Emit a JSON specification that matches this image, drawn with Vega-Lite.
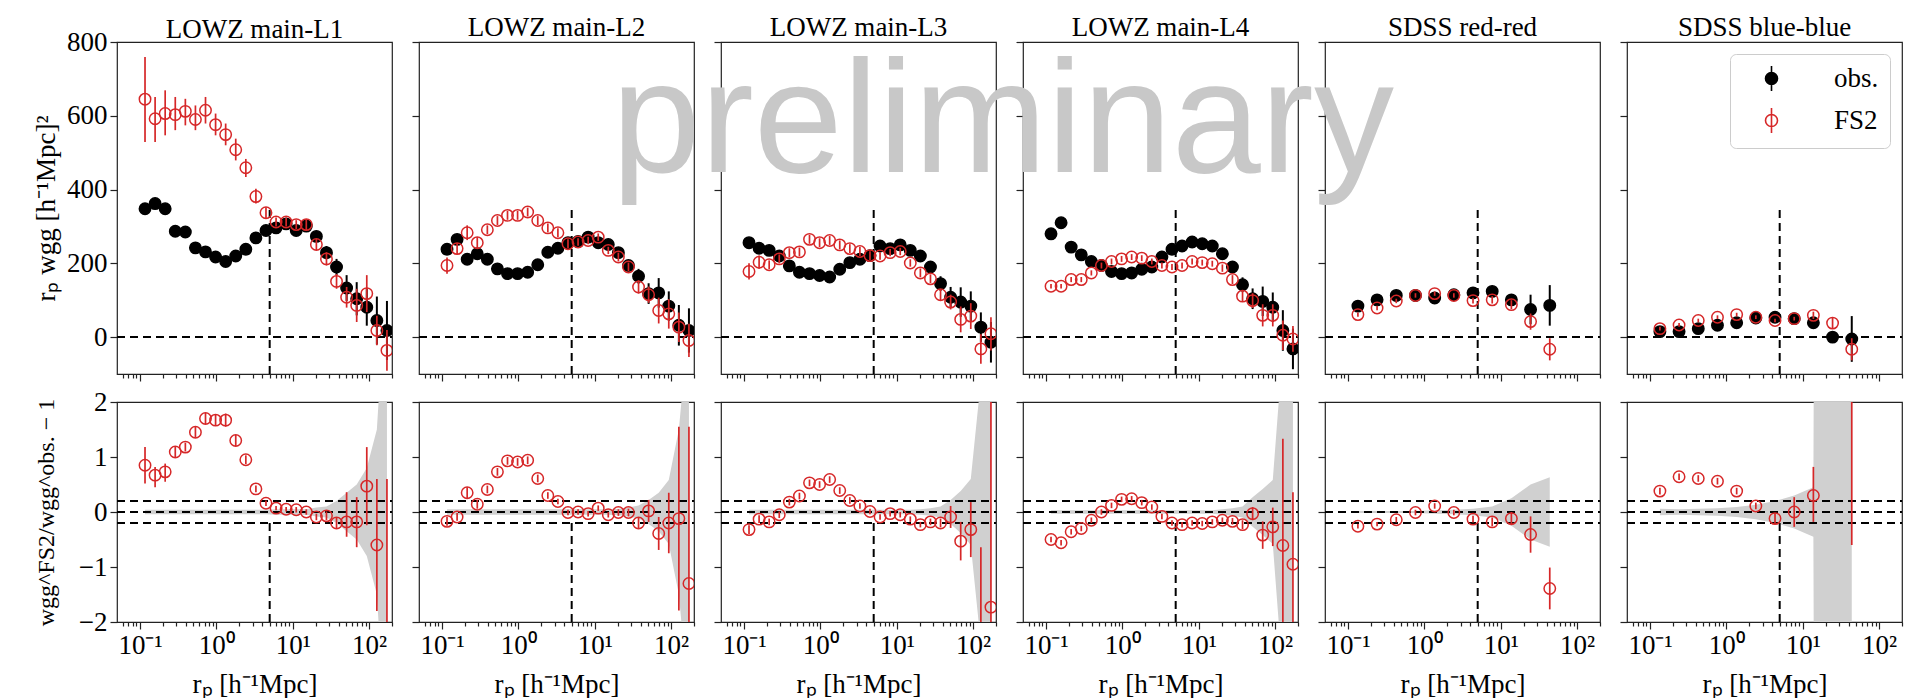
{
"$schema":"https://vega.github.io/schema/vega-lite/v6.json",
"background":"white",
"padding":{"left":31,"top":13,"right":0,"bottom":0},
"datasets":{
"top":[
{"p":1,"s":"obs.","r":0.1164,"w":348,"lo":333,"hi":363},{"p":1,"s":"obs.","r":0.1578,"w":362,"lo":347,"hi":377},{"p":1,"s":"obs.","r":0.2138,"w":348,"lo":336,"hi":360},{"p":1,"s":"obs.","r":0.2899,"w":287,"lo":277,"hi":297},{"p":1,"s":"obs.","r":0.3929,"w":285,"lo":275,"hi":295},{"p":1,"s":"obs.","r":0.5324,"w":242,"lo":234,"hi":250},{"p":1,"s":"obs.","r":0.7216,"w":231,"lo":223,"hi":239},{"p":1,"s":"obs.","r":0.9779,"w":217,"lo":209,"hi":225},{"p":1,"s":"obs.","r":1.325,"w":205,"lo":197,"hi":213},{"p":1,"s":"obs.","r":1.796,"w":220,"lo":212,"hi":228},{"p":1,"s":"obs.","r":2.434,"w":238,"lo":230,"hi":246},{"p":1,"s":"obs.","r":3.299,"w":269,"lo":261,"hi":277},{"p":1,"s":"obs.","r":4.471,"w":289,"lo":281,"hi":297},{"p":1,"s":"obs.","r":6.06,"w":296,"lo":286,"hi":306},{"p":1,"s":"obs.","r":8.212,"w":307,"lo":297,"hi":317},{"p":1,"s":"obs.","r":11.13,"w":289,"lo":277,"hi":301},{"p":1,"s":"obs.","r":15.08,"w":301,"lo":289,"hi":313},{"p":1,"s":"obs.","r":20.44,"w":273,"lo":258,"hi":288},{"p":1,"s":"obs.","r":27.71,"w":229,"lo":211,"hi":247},{"p":1,"s":"obs.","r":37.55,"w":190,"lo":168,"hi":212},{"p":1,"s":"obs.","r":50.89,"w":133,"lo":98,"hi":168},{"p":1,"s":"obs.","r":68.97,"w":104,"lo":59,"hi":149},{"p":1,"s":"obs.","r":93.47,"w":81,"lo":31,"hi":131},{"p":1,"s":"obs.","r":126.7,"w":45,"lo":-20,"hi":110},{"p":1,"s":"obs.","r":171.7,"w":18,"lo":-62,"hi":98},
{"p":1,"s":"FS2","r":0.1164,"w":645,"lo":529,"hi":759},{"p":1,"s":"FS2","r":0.1578,"w":592,"lo":529,"hi":651},{"p":1,"s":"FS2","r":0.2138,"w":606,"lo":547,"hi":669},{"p":1,"s":"FS2","r":0.2899,"w":603,"lo":561,"hi":651},{"p":1,"s":"FS2","r":0.3929,"w":612,"lo":574,"hi":646},{"p":1,"s":"FS2","r":0.5324,"w":590,"lo":561,"hi":628},{"p":1,"s":"FS2","r":0.7216,"w":615,"lo":579,"hi":651},{"p":1,"s":"FS2","r":0.9779,"w":576,"lo":547,"hi":606},{"p":1,"s":"FS2","r":1.325,"w":549,"lo":520,"hi":579},{"p":1,"s":"FS2","r":1.796,"w":508,"lo":479,"hi":538},{"p":1,"s":"FS2","r":2.434,"w":459,"lo":434,"hi":483},{"p":1,"s":"FS2","r":3.299,"w":381,"lo":362,"hi":402},{"p":1,"s":"FS2","r":4.471,"w":337,"lo":322,"hi":352},{"p":1,"s":"FS2","r":6.06,"w":312,"lo":300,"hi":324},{"p":1,"s":"FS2","r":8.212,"w":312,"lo":300,"hi":324},{"p":1,"s":"FS2","r":11.13,"w":305,"lo":293,"hi":317},{"p":1,"s":"FS2","r":15.08,"w":305,"lo":290,"hi":320},{"p":1,"s":"FS2","r":20.44,"w":251,"lo":236,"hi":266},{"p":1,"s":"FS2","r":27.71,"w":212,"lo":194,"hi":230},{"p":1,"s":"FS2","r":37.55,"w":151,"lo":131,"hi":171},{"p":1,"s":"FS2","r":50.89,"w":108,"lo":80,"hi":136},{"p":1,"s":"FS2","r":68.97,"w":86,"lo":41,"hi":131},{"p":1,"s":"FS2","r":93.47,"w":118,"lo":68,"hi":168},{"p":1,"s":"FS2","r":126.7,"w":18,"lo":-22,"hi":58},{"p":1,"s":"FS2","r":171.7,"w":-36,"lo":-91,"hi":19},
{"p":2,"s":"obs.","r":0.1164,"w":238,"lo":230,"hi":246},{"p":2,"s":"obs.","r":0.1578,"w":265,"lo":257,"hi":273},{"p":2,"s":"obs.","r":0.2138,"w":211,"lo":203,"hi":219},{"p":2,"s":"obs.","r":0.2899,"w":226,"lo":218,"hi":234},{"p":2,"s":"obs.","r":0.3929,"w":211,"lo":203,"hi":219},{"p":2,"s":"obs.","r":0.5324,"w":185,"lo":177,"hi":193},{"p":2,"s":"obs.","r":0.7216,"w":172,"lo":164,"hi":180},{"p":2,"s":"obs.","r":0.9779,"w":172,"lo":164,"hi":180},{"p":2,"s":"obs.","r":1.325,"w":176,"lo":168,"hi":184},{"p":2,"s":"obs.","r":1.796,"w":196,"lo":188,"hi":204},{"p":2,"s":"obs.","r":2.434,"w":230,"lo":222,"hi":238},{"p":2,"s":"obs.","r":3.299,"w":241,"lo":233,"hi":249},{"p":2,"s":"obs.","r":4.471,"w":256,"lo":248,"hi":264},{"p":2,"s":"obs.","r":6.06,"w":259,"lo":251,"hi":267},{"p":2,"s":"obs.","r":8.212,"w":271,"lo":263,"hi":279},{"p":2,"s":"obs.","r":11.13,"w":256,"lo":248,"hi":264},{"p":2,"s":"obs.","r":15.08,"w":251,"lo":243,"hi":259},{"p":2,"s":"obs.","r":20.44,"w":229,"lo":217,"hi":241},{"p":2,"s":"obs.","r":27.71,"w":194,"lo":179,"hi":209},{"p":2,"s":"obs.","r":37.55,"w":165,"lo":145,"hi":185},{"p":2,"s":"obs.","r":50.89,"w":118,"lo":90,"hi":146},{"p":2,"s":"obs.","r":68.97,"w":120,"lo":80,"hi":160},{"p":2,"s":"obs.","r":93.47,"w":84,"lo":44,"hi":124},{"p":2,"s":"obs.","r":126.7,"w":32,"lo":-23,"hi":87},{"p":2,"s":"obs.","r":171.7,"w":18,"lo":-42,"hi":78},
{"p":2,"s":"FS2","r":0.1164,"w":194,"lo":172,"hi":216},{"p":2,"s":"FS2","r":0.1578,"w":240,"lo":225,"hi":255},{"p":2,"s":"FS2","r":0.2138,"w":283,"lo":263,"hi":303},{"p":2,"s":"FS2","r":0.2899,"w":256,"lo":241,"hi":271},{"p":2,"s":"FS2","r":0.3929,"w":291,"lo":279,"hi":303},{"p":2,"s":"FS2","r":0.5324,"w":316,"lo":304,"hi":328},{"p":2,"s":"FS2","r":0.7216,"w":330,"lo":318,"hi":342},{"p":2,"s":"FS2","r":0.9779,"w":330,"lo":318,"hi":342},{"p":2,"s":"FS2","r":1.325,"w":339,"lo":327,"hi":351},{"p":2,"s":"FS2","r":1.796,"w":316,"lo":304,"hi":328},{"p":2,"s":"FS2","r":2.434,"w":296,"lo":284,"hi":308},{"p":2,"s":"FS2","r":3.299,"w":283,"lo":271,"hi":295},{"p":2,"s":"FS2","r":4.471,"w":253,"lo":241,"hi":265},{"p":2,"s":"FS2","r":6.06,"w":258,"lo":248,"hi":268},{"p":2,"s":"FS2","r":8.212,"w":262,"lo":252,"hi":272},{"p":2,"s":"FS2","r":11.13,"w":271,"lo":261,"hi":281},{"p":2,"s":"FS2","r":15.08,"w":235,"lo":225,"hi":245},{"p":2,"s":"FS2","r":20.44,"w":217,"lo":205,"hi":229},{"p":2,"s":"FS2","r":27.71,"w":190,"lo":178,"hi":202},{"p":2,"s":"FS2","r":37.55,"w":136,"lo":118,"hi":154},{"p":2,"s":"FS2","r":50.89,"w":115,"lo":93,"hi":137},{"p":2,"s":"FS2","r":68.97,"w":72,"lo":37,"hi":107},{"p":2,"s":"FS2","r":93.47,"w":63,"lo":23,"hi":103},{"p":2,"s":"FS2","r":126.7,"w":27,"lo":-13,"hi":67},{"p":2,"s":"FS2","r":171.7,"w":-9,"lo":-54,"hi":36},
{"p":3,"s":"obs.","r":0.1164,"w":256,"lo":248,"hi":264},{"p":3,"s":"obs.","r":0.1578,"w":241,"lo":233,"hi":249},{"p":3,"s":"obs.","r":0.2138,"w":235,"lo":227,"hi":243},{"p":3,"s":"obs.","r":0.2899,"w":220,"lo":212,"hi":228},{"p":3,"s":"obs.","r":0.3929,"w":193,"lo":185,"hi":201},{"p":3,"s":"obs.","r":0.5324,"w":176,"lo":168,"hi":184},{"p":3,"s":"obs.","r":0.7216,"w":172,"lo":164,"hi":180},{"p":3,"s":"obs.","r":0.9779,"w":167,"lo":159,"hi":175},{"p":3,"s":"obs.","r":1.325,"w":163,"lo":155,"hi":171},{"p":3,"s":"obs.","r":1.796,"w":184,"lo":176,"hi":192},{"p":3,"s":"obs.","r":2.434,"w":202,"lo":194,"hi":210},{"p":3,"s":"obs.","r":3.299,"w":211,"lo":203,"hi":219},{"p":3,"s":"obs.","r":4.471,"w":221,"lo":213,"hi":229},{"p":3,"s":"obs.","r":6.06,"w":247,"lo":239,"hi":255},{"p":3,"s":"obs.","r":8.212,"w":240,"lo":232,"hi":248},{"p":3,"s":"obs.","r":11.13,"w":250,"lo":242,"hi":258},{"p":3,"s":"obs.","r":15.08,"w":235,"lo":227,"hi":243},{"p":3,"s":"obs.","r":20.44,"w":220,"lo":208,"hi":232},{"p":3,"s":"obs.","r":27.71,"w":190,"lo":175,"hi":205},{"p":3,"s":"obs.","r":37.55,"w":145,"lo":125,"hi":165},{"p":3,"s":"obs.","r":50.89,"w":108,"lo":80,"hi":136},{"p":3,"s":"obs.","r":68.97,"w":95,"lo":55,"hi":135},{"p":3,"s":"obs.","r":93.47,"w":84,"lo":44,"hi":124},{"p":3,"s":"obs.","r":126.7,"w":27,"lo":-13,"hi":67},{"p":3,"s":"obs.","r":171.7,"w":-14,"lo":-69,"hi":41},
{"p":3,"s":"FS2","r":0.1164,"w":178,"lo":156,"hi":200},{"p":3,"s":"FS2","r":0.1578,"w":203,"lo":185,"hi":221},{"p":3,"s":"FS2","r":0.2138,"w":196,"lo":184,"hi":208},{"p":3,"s":"FS2","r":0.2899,"w":212,"lo":200,"hi":224},{"p":3,"s":"FS2","r":0.3929,"w":229,"lo":217,"hi":241},{"p":3,"s":"FS2","r":0.5324,"w":231,"lo":219,"hi":243},{"p":3,"s":"FS2","r":0.7216,"w":265,"lo":253,"hi":277},{"p":3,"s":"FS2","r":0.9779,"w":256,"lo":244,"hi":268},{"p":3,"s":"FS2","r":1.325,"w":262,"lo":250,"hi":274},{"p":3,"s":"FS2","r":1.796,"w":250,"lo":238,"hi":262},{"p":3,"s":"FS2","r":2.434,"w":240,"lo":228,"hi":252},{"p":3,"s":"FS2","r":3.299,"w":232,"lo":220,"hi":244},{"p":3,"s":"FS2","r":4.471,"w":221,"lo":209,"hi":233},{"p":3,"s":"FS2","r":6.06,"w":220,"lo":210,"hi":230},{"p":3,"s":"FS2","r":8.212,"w":229,"lo":219,"hi":239},{"p":3,"s":"FS2","r":11.13,"w":232,"lo":222,"hi":242},{"p":3,"s":"FS2","r":15.08,"w":201,"lo":191,"hi":211},{"p":3,"s":"FS2","r":20.44,"w":174,"lo":162,"hi":186},{"p":3,"s":"FS2","r":27.71,"w":158,"lo":146,"hi":170},{"p":3,"s":"FS2","r":37.55,"w":115,"lo":100,"hi":130},{"p":3,"s":"FS2","r":50.89,"w":95,"lo":75,"hi":115},{"p":3,"s":"FS2","r":68.97,"w":48,"lo":13,"hi":83},{"p":3,"s":"FS2","r":93.47,"w":57,"lo":22,"hi":92},{"p":3,"s":"FS2","r":126.7,"w":-32,"lo":-72,"hi":8},{"p":3,"s":"FS2","r":171.7,"w":9,"lo":-36,"hi":54},
{"p":4,"s":"obs.","r":0.1164,"w":280,"lo":272,"hi":288},{"p":4,"s":"obs.","r":0.1578,"w":310,"lo":302,"hi":318},{"p":4,"s":"obs.","r":0.2138,"w":244,"lo":236,"hi":252},{"p":4,"s":"obs.","r":0.2899,"w":223,"lo":215,"hi":231},{"p":4,"s":"obs.","r":0.3929,"w":205,"lo":197,"hi":213},{"p":4,"s":"obs.","r":0.5324,"w":194,"lo":186,"hi":202},{"p":4,"s":"obs.","r":0.7216,"w":178,"lo":170,"hi":186},{"p":4,"s":"obs.","r":0.9779,"w":172,"lo":164,"hi":180},{"p":4,"s":"obs.","r":1.325,"w":174,"lo":166,"hi":182},{"p":4,"s":"obs.","r":1.796,"w":184,"lo":176,"hi":192},{"p":4,"s":"obs.","r":2.434,"w":190,"lo":182,"hi":198},{"p":4,"s":"obs.","r":3.299,"w":217,"lo":209,"hi":225},{"p":4,"s":"obs.","r":4.471,"w":238,"lo":230,"hi":246},{"p":4,"s":"obs.","r":6.06,"w":247,"lo":239,"hi":255},{"p":4,"s":"obs.","r":8.212,"w":258,"lo":250,"hi":266},{"p":4,"s":"obs.","r":11.13,"w":253,"lo":245,"hi":261},{"p":4,"s":"obs.","r":15.08,"w":247,"lo":239,"hi":255},{"p":4,"s":"obs.","r":20.44,"w":226,"lo":214,"hi":238},{"p":4,"s":"obs.","r":27.71,"w":190,"lo":175,"hi":205},{"p":4,"s":"obs.","r":37.55,"w":142,"lo":122,"hi":162},{"p":4,"s":"obs.","r":50.89,"w":104,"lo":76,"hi":132},{"p":4,"s":"obs.","r":68.97,"w":97,"lo":57,"hi":137},{"p":4,"s":"obs.","r":93.47,"w":81,"lo":41,"hi":121},{"p":4,"s":"obs.","r":126.7,"w":18,"lo":-37,"hi":73},{"p":4,"s":"obs.","r":171.7,"w":-32,"lo":-87,"hi":23},
{"p":4,"s":"FS2","r":0.1164,"w":138,"lo":132,"hi":144},{"p":4,"s":"FS2","r":0.1578,"w":138,"lo":132,"hi":144},{"p":4,"s":"FS2","r":0.2138,"w":156,"lo":149,"hi":163},{"p":4,"s":"FS2","r":0.2899,"w":156,"lo":149,"hi":163},{"p":4,"s":"FS2","r":0.3929,"w":174,"lo":167,"hi":181},{"p":4,"s":"FS2","r":0.5324,"w":194,"lo":186,"hi":202},{"p":4,"s":"FS2","r":0.7216,"w":205,"lo":197,"hi":213},{"p":4,"s":"FS2","r":0.9779,"w":212,"lo":204,"hi":220},{"p":4,"s":"FS2","r":1.325,"w":217,"lo":209,"hi":225},{"p":4,"s":"FS2","r":1.796,"w":214,"lo":206,"hi":222},{"p":4,"s":"FS2","r":2.434,"w":205,"lo":197,"hi":213},{"p":4,"s":"FS2","r":3.299,"w":194,"lo":186,"hi":202},{"p":4,"s":"FS2","r":4.471,"w":190,"lo":182,"hi":198},{"p":4,"s":"FS2","r":6.06,"w":194,"lo":186,"hi":202},{"p":4,"s":"FS2","r":8.212,"w":205,"lo":197,"hi":213},{"p":4,"s":"FS2","r":11.13,"w":202,"lo":194,"hi":210},{"p":4,"s":"FS2","r":15.08,"w":199,"lo":191,"hi":207},{"p":4,"s":"FS2","r":20.44,"w":187,"lo":177,"hi":197},{"p":4,"s":"FS2","r":27.71,"w":156,"lo":144,"hi":168},{"p":4,"s":"FS2","r":37.55,"w":111,"lo":96,"hi":126},{"p":4,"s":"FS2","r":50.89,"w":99,"lo":79,"hi":119},{"p":4,"s":"FS2","r":68.97,"w":59,"lo":29,"hi":89},{"p":4,"s":"FS2","r":93.47,"w":59,"lo":29,"hi":89},{"p":4,"s":"FS2","r":126.7,"w":5,"lo":-35,"hi":45},{"p":4,"s":"FS2","r":171.7,"w":-5,"lo":-40,"hi":30},
{"p":5,"s":"obs.","r":0.1349,"w":84,"lo":78,"hi":90},{"p":5,"s":"obs.","r":0.2405,"w":101,"lo":95,"hi":107},{"p":5,"s":"obs.","r":0.4291,"w":113,"lo":107,"hi":119},{"p":5,"s":"obs.","r":0.7655,"w":113,"lo":107,"hi":119},{"p":5,"s":"obs.","r":1.366,"w":106,"lo":100,"hi":112},{"p":5,"s":"obs.","r":2.435,"w":115,"lo":109,"hi":121},{"p":5,"s":"obs.","r":4.343,"w":120,"lo":114,"hi":126},{"p":5,"s":"obs.","r":7.746,"w":124,"lo":118,"hi":130},{"p":5,"s":"obs.","r":13.81,"w":101,"lo":89,"hi":113},{"p":5,"s":"obs.","r":24.64,"w":75,"lo":35,"hi":115},{"p":5,"s":"obs.","r":43.95,"w":86,"lo":31,"hi":141},
{"p":5,"s":"FS2","r":0.1349,"w":61,"lo":55,"hi":67},{"p":5,"s":"FS2","r":0.2405,"w":79,"lo":73,"hi":85},{"p":5,"s":"FS2","r":0.4291,"w":98,"lo":92,"hi":104},{"p":5,"s":"FS2","r":0.7655,"w":113,"lo":107,"hi":119},{"p":5,"s":"FS2","r":1.366,"w":118,"lo":112,"hi":124},{"p":5,"s":"FS2","r":2.435,"w":113,"lo":107,"hi":119},{"p":5,"s":"FS2","r":4.343,"w":99,"lo":91,"hi":107},{"p":5,"s":"FS2","r":7.746,"w":101,"lo":91,"hi":111},{"p":5,"s":"FS2","r":13.81,"w":88,"lo":76,"hi":100},{"p":5,"s":"FS2","r":24.64,"w":42,"lo":20,"hi":64},{"p":5,"s":"FS2","r":43.95,"w":-33,"lo":-63,"hi":-3},
{"p":6,"s":"obs.","r":0.1349,"w":15,"lo":10,"hi":20},{"p":6,"s":"obs.","r":0.2405,"w":15,"lo":10,"hi":20},{"p":6,"s":"obs.","r":0.4291,"w":23,"lo":18,"hi":28},{"p":6,"s":"obs.","r":0.7655,"w":32,"lo":27,"hi":37},{"p":6,"s":"obs.","r":1.366,"w":39,"lo":34,"hi":44},{"p":6,"s":"obs.","r":2.435,"w":52,"lo":47,"hi":57},{"p":6,"s":"obs.","r":4.343,"w":54,"lo":49,"hi":59},{"p":6,"s":"obs.","r":7.746,"w":50,"lo":45,"hi":55},{"p":6,"s":"obs.","r":13.81,"w":39,"lo":34,"hi":44},{"p":6,"s":"obs.","r":24.64,"w":0,"lo":-5,"hi":5},{"p":6,"s":"obs.","r":43.95,"w":-5,"lo":-67,"hi":57},
{"p":6,"s":"FS2","r":0.1349,"w":23,"lo":18,"hi":28},{"p":6,"s":"FS2","r":0.2405,"w":33,"lo":28,"hi":38},{"p":6,"s":"FS2","r":0.4291,"w":45,"lo":40,"hi":50},{"p":6,"s":"FS2","r":0.7655,"w":54,"lo":49,"hi":59},{"p":6,"s":"FS2","r":1.366,"w":61,"lo":56,"hi":66},{"p":6,"s":"FS2","r":2.435,"w":54,"lo":49,"hi":59},{"p":6,"s":"FS2","r":4.343,"w":45,"lo":40,"hi":50},{"p":6,"s":"FS2","r":7.746,"w":50,"lo":45,"hi":55},{"p":6,"s":"FS2","r":13.81,"w":59,"lo":49,"hi":69},{"p":6,"s":"FS2","r":24.64,"w":38,"lo":23,"hi":53},{"p":6,"s":"FS2","r":43.95,"w":-33,"lo":-63,"hi":-3}
],
"bot":[
{"p":1,"r":0.1164,"v":0.85,"lo":0.52,"hi":1.18},{"p":1,"r":0.1578,"v":0.67,"lo":0.45,"hi":0.82},{"p":1,"r":0.2138,"v":0.73,"lo":0.55,"hi":0.88},{"p":1,"r":0.2899,"v":1.09,"lo":0.99,"hi":1.19},{"p":1,"r":0.3929,"v":1.18,"lo":1.1,"hi":1.26},{"p":1,"r":0.5324,"v":1.45,"lo":1.35,"hi":1.55},{"p":1,"r":0.7216,"v":1.7,"lo":1.6,"hi":1.8},{"p":1,"r":0.9779,"v":1.67,"lo":1.57,"hi":1.77},{"p":1,"r":1.325,"v":1.67,"lo":1.55,"hi":1.79},{"p":1,"r":1.796,"v":1.3,"lo":1.2,"hi":1.4},{"p":1,"r":2.434,"v":0.95,"lo":0.87,"hi":1.03},{"p":1,"r":3.299,"v":0.42,"lo":0.36,"hi":0.48},{"p":1,"r":4.471,"v":0.16,"lo":0.11,"hi":0.21},{"p":1,"r":6.06,"v":0.07,"lo":0.03,"hi":0.11},{"p":1,"r":8.212,"v":0.05,"lo":0.01,"hi":0.09},{"p":1,"r":11.13,"v":0.04,"lo":-0.01,"hi":0.09},{"p":1,"r":15.08,"v":0,"lo":-0.05,"hi":0.05},{"p":1,"r":20.44,"v":-0.09,"lo":-0.15,"hi":-0.03},{"p":1,"r":27.71,"v":-0.07,"lo":-0.15,"hi":0.01},{"p":1,"r":37.55,"v":-0.2,"lo":-0.3,"hi":-0.1},{"p":1,"r":50.89,"v":-0.18,"lo":-0.45,"hi":0.36},{"p":1,"r":68.97,"v":-0.18,"lo":-0.64,"hi":0.27},{"p":1,"r":93.47,"v":0.47,"lo":-0.24,"hi":1.18},{"p":1,"r":126.7,"v":-0.6,"lo":-1.8,"hi":0.6},{"p":1,"r":171.7,"v":-3,"lo":-6.5,"hi":0.6},
{"p":2,"r":0.1164,"v":-0.17,"lo":-0.25,"hi":-0.09},{"p":2,"r":0.1578,"v":-0.09,"lo":-0.16,"hi":-0.02},{"p":2,"r":0.2138,"v":0.35,"lo":0.25,"hi":0.45},{"p":2,"r":0.2899,"v":0.14,"lo":0.06,"hi":0.22},{"p":2,"r":0.3929,"v":0.41,"lo":0.34,"hi":0.48},{"p":2,"r":0.5324,"v":0.73,"lo":0.66,"hi":0.8},{"p":2,"r":0.7216,"v":0.93,"lo":0.86,"hi":1.0},{"p":2,"r":0.9779,"v":0.91,"lo":0.84,"hi":0.98},{"p":2,"r":1.325,"v":0.94,"lo":0.87,"hi":1.01},{"p":2,"r":1.796,"v":0.61,"lo":0.54,"hi":0.68},{"p":2,"r":2.434,"v":0.3,"lo":0.24,"hi":0.36},{"p":2,"r":3.299,"v":0.19,"lo":0.14,"hi":0.24},{"p":2,"r":4.471,"v":-0.01,"lo":-0.06,"hi":0.04},{"p":2,"r":6.06,"v":0,"lo":-0.05,"hi":0.05},{"p":2,"r":8.212,"v":-0.03,"lo":-0.08,"hi":0.02},{"p":2,"r":11.13,"v":0.07,"lo":0.02,"hi":0.12},{"p":2,"r":15.08,"v":-0.05,"lo":-0.1,"hi":0},{"p":2,"r":20.44,"v":-0.01,"lo":-0.07,"hi":0.05},{"p":2,"r":27.71,"v":-0.01,"lo":-0.08,"hi":0.06},{"p":2,"r":37.55,"v":-0.2,"lo":-0.3,"hi":-0.1},{"p":2,"r":50.89,"v":0.02,"lo":-0.18,"hi":0.22},{"p":2,"r":68.97,"v":-0.39,"lo":-0.69,"hi":-0.09},{"p":2,"r":93.47,"v":-0.2,"lo":-0.75,"hi":0.35},{"p":2,"r":126.7,"v":-0.12,"lo":-1.79,"hi":1.55},{"p":2,"r":171.7,"v":-1.3,"lo":-3.5,"hi":1.55},
{"p":3,"r":0.1164,"v":-0.32,"lo":-0.4,"hi":-0.24},{"p":3,"r":0.1578,"v":-0.13,"lo":-0.2,"hi":-0.06},{"p":3,"r":0.2138,"v":-0.18,"lo":-0.24,"hi":-0.12},{"p":3,"r":0.2899,"v":-0.05,"lo":-0.11,"hi":0.01},{"p":3,"r":0.3929,"v":0.18,"lo":0.12,"hi":0.24},{"p":3,"r":0.5324,"v":0.29,"lo":0.23,"hi":0.35},{"p":3,"r":0.7216,"v":0.53,"lo":0.47,"hi":0.59},{"p":3,"r":0.9779,"v":0.5,"lo":0.44,"hi":0.56},{"p":3,"r":1.325,"v":0.59,"lo":0.53,"hi":0.65},{"p":3,"r":1.796,"v":0.39,"lo":0.33,"hi":0.45},{"p":3,"r":2.434,"v":0.21,"lo":0.15,"hi":0.27},{"p":3,"r":3.299,"v":0.11,"lo":0.06,"hi":0.16},{"p":3,"r":4.471,"v":0.01,"lo":-0.04,"hi":0.06},{"p":3,"r":6.06,"v":-0.09,"lo":-0.14,"hi":-0.04},{"p":3,"r":8.212,"v":-0.03,"lo":-0.08,"hi":0.02},{"p":3,"r":11.13,"v":-0.05,"lo":-0.1,"hi":0},{"p":3,"r":15.08,"v":-0.13,"lo":-0.18,"hi":-0.08},{"p":3,"r":20.44,"v":-0.23,"lo":-0.28,"hi":-0.18},{"p":3,"r":27.71,"v":-0.18,"lo":-0.24,"hi":-0.12},{"p":3,"r":37.55,"v":-0.2,"lo":-0.28,"hi":-0.12},{"p":3,"r":50.89,"v":-0.09,"lo":-0.29,"hi":0.11},{"p":3,"r":68.97,"v":-0.53,"lo":-0.88,"hi":-0.18},{"p":3,"r":93.47,"v":-0.32,"lo":-0.82,"hi":0.18},{"p":3,"r":126.7,"v":-2.2,"lo":-5,"hi":-0.64},{"p":3,"r":171.7,"v":-1.73,"lo":-5,"hi":3},
{"p":4,"r":0.1164,"v":-0.5,"lo":-0.55,"hi":-0.45},{"p":4,"r":0.1578,"v":-0.56,"lo":-0.61,"hi":-0.51},{"p":4,"r":0.2138,"v":-0.36,"lo":-0.41,"hi":-0.31},{"p":4,"r":0.2899,"v":-0.3,"lo":-0.35,"hi":-0.25},{"p":4,"r":0.3929,"v":-0.15,"lo":-0.2,"hi":-0.1},{"p":4,"r":0.5324,"v":0,"lo":-0.05,"hi":0.05},{"p":4,"r":0.7216,"v":0.12,"lo":0.07,"hi":0.17},{"p":4,"r":0.9779,"v":0.23,"lo":0.18,"hi":0.28},{"p":4,"r":1.325,"v":0.24,"lo":0.19,"hi":0.29},{"p":4,"r":1.796,"v":0.17,"lo":0.12,"hi":0.22},{"p":4,"r":2.434,"v":0.09,"lo":0.04,"hi":0.14},{"p":4,"r":3.299,"v":-0.08,"lo":-0.13,"hi":-0.03},{"p":4,"r":4.471,"v":-0.2,"lo":-0.25,"hi":-0.15},{"p":4,"r":6.06,"v":-0.23,"lo":-0.28,"hi":-0.18},{"p":4,"r":8.212,"v":-0.2,"lo":-0.25,"hi":-0.15},{"p":4,"r":11.13,"v":-0.21,"lo":-0.26,"hi":-0.16},{"p":4,"r":15.08,"v":-0.18,"lo":-0.23,"hi":-0.13},{"p":4,"r":20.44,"v":-0.15,"lo":-0.2,"hi":-0.1},{"p":4,"r":27.71,"v":-0.17,"lo":-0.23,"hi":-0.11},{"p":4,"r":37.55,"v":-0.23,"lo":-0.31,"hi":-0.15},{"p":4,"r":50.89,"v":-0.03,"lo":-0.15,"hi":0.09},{"p":4,"r":68.97,"v":-0.42,"lo":-0.67,"hi":-0.17},{"p":4,"r":93.47,"v":-0.27,"lo":-0.62,"hi":0.08},{"p":4,"r":126.7,"v":-0.61,"lo":-2.5,"hi":1.33},{"p":4,"r":171.7,"v":-0.95,"lo":-2.5,"hi":0.36},
{"p":5,"r":0.1349,"v":-0.26,"lo":-0.3,"hi":-0.22},{"p":5,"r":0.2405,"v":-0.22,"lo":-0.26,"hi":-0.18},{"p":5,"r":0.4291,"v":-0.14,"lo":-0.19,"hi":-0.09},{"p":5,"r":0.7655,"v":-0.01,"lo":-0.06,"hi":0.04},{"p":5,"r":1.366,"v":0.11,"lo":0.06,"hi":0.16},{"p":5,"r":2.435,"v":-0.01,"lo":-0.06,"hi":0.04},{"p":5,"r":4.343,"v":-0.13,"lo":-0.19,"hi":-0.07},{"p":5,"r":7.746,"v":-0.18,"lo":-0.26,"hi":-0.1},{"p":5,"r":13.81,"v":-0.12,"lo":-0.24,"hi":0},{"p":5,"r":24.64,"v":-0.41,"lo":-0.74,"hi":-0.08},{"p":5,"r":43.95,"v":-1.39,"lo":-1.77,"hi":-1.01},
{"p":6,"r":0.1349,"v":0.38,"lo":0.32,"hi":0.44},{"p":6,"r":0.2405,"v":0.64,"lo":0.58,"hi":0.7},{"p":6,"r":0.4291,"v":0.61,"lo":0.55,"hi":0.67},{"p":6,"r":0.7655,"v":0.56,"lo":0.5,"hi":0.62},{"p":6,"r":1.366,"v":0.38,"lo":0.32,"hi":0.44},{"p":6,"r":2.435,"v":0.11,"lo":0.05,"hi":0.17},{"p":6,"r":4.343,"v":-0.12,"lo":-0.22,"hi":-0.02},{"p":6,"r":7.746,"v":0,"lo":-0.27,"hi":0.27},{"p":6,"r":13.81,"v":0.3,"lo":-0.18,"hi":0.82},{"p":6,"r":43.95,"v":5.6,"lo":-0.6,"hi":12}
],
"band":[
{"p":1,"r":0.1164,"lo":-0.04,"hi":0.04},{"p":1,"r":0.1578,"lo":-0.04,"hi":0.04},{"p":1,"r":0.2138,"lo":-0.04,"hi":0.04},{"p":1,"r":0.2899,"lo":-0.04,"hi":0.04},{"p":1,"r":0.3929,"lo":-0.04,"hi":0.04},{"p":1,"r":0.5324,"lo":-0.04,"hi":0.04},{"p":1,"r":0.7216,"lo":-0.04,"hi":0.04},{"p":1,"r":0.9779,"lo":-0.04,"hi":0.04},{"p":1,"r":1.325,"lo":-0.04,"hi":0.04},{"p":1,"r":1.796,"lo":-0.04,"hi":0.04},{"p":1,"r":2.434,"lo":-0.04,"hi":0.04},{"p":1,"r":3.299,"lo":-0.04,"hi":0.04},{"p":1,"r":4.471,"lo":-0.04,"hi":0.04},{"p":1,"r":6.06,"lo":-0.05,"hi":0.05},{"p":1,"r":8.212,"lo":-0.05,"hi":0.05},{"p":1,"r":11.13,"lo":-0.05,"hi":0.05},{"p":1,"r":15.08,"lo":-0.05,"hi":0.05},{"p":1,"r":20.44,"lo":-0.08,"hi":0.08},{"p":1,"r":27.71,"lo":-0.1,"hi":0.1},{"p":1,"r":37.55,"lo":-0.2,"hi":0.2},{"p":1,"r":50.89,"lo":-0.35,"hi":0.35},{"p":1,"r":68.97,"lo":-0.5,"hi":0.5},{"p":1,"r":93.47,"lo":-0.8,"hi":0.8},{"p":1,"r":126.7,"lo":-1.5,"hi":1.5},{"p":1,"r":171.7,"lo":-4.5,"hi":4.5},
{"p":2,"r":0.1164,"lo":-0.05,"hi":0.05},{"p":2,"r":0.1578,"lo":-0.05,"hi":0.05},{"p":2,"r":0.2138,"lo":-0.05,"hi":0.05},{"p":2,"r":0.2899,"lo":-0.05,"hi":0.05},{"p":2,"r":0.3929,"lo":-0.05,"hi":0.05},{"p":2,"r":0.5324,"lo":-0.05,"hi":0.05},{"p":2,"r":0.7216,"lo":-0.05,"hi":0.05},{"p":2,"r":0.9779,"lo":-0.05,"hi":0.05},{"p":2,"r":1.325,"lo":-0.05,"hi":0.05},{"p":2,"r":1.796,"lo":-0.05,"hi":0.05},{"p":2,"r":2.434,"lo":-0.05,"hi":0.05},{"p":2,"r":3.299,"lo":-0.05,"hi":0.05},{"p":2,"r":4.471,"lo":-0.05,"hi":0.05},{"p":2,"r":6.06,"lo":-0.05,"hi":0.05},{"p":2,"r":8.212,"lo":-0.05,"hi":0.05},{"p":2,"r":11.13,"lo":-0.05,"hi":0.05},{"p":2,"r":15.08,"lo":-0.05,"hi":0.05},{"p":2,"r":20.44,"lo":-0.06,"hi":0.06},{"p":2,"r":27.71,"lo":-0.08,"hi":0.08},{"p":2,"r":37.55,"lo":-0.12,"hi":0.12},{"p":2,"r":50.89,"lo":-0.22,"hi":0.22},{"p":2,"r":68.97,"lo":-0.35,"hi":0.35},{"p":2,"r":93.47,"lo":-0.58,"hi":0.58},{"p":2,"r":126.7,"lo":-1.5,"hi":1.5},{"p":2,"r":171.7,"lo":-3.5,"hi":3.5},
{"p":3,"r":0.1164,"lo":-0.04,"hi":0.04},{"p":3,"r":0.1578,"lo":-0.04,"hi":0.04},{"p":3,"r":0.2138,"lo":-0.04,"hi":0.04},{"p":3,"r":0.2899,"lo":-0.04,"hi":0.04},{"p":3,"r":0.3929,"lo":-0.04,"hi":0.04},{"p":3,"r":0.5324,"lo":-0.04,"hi":0.04},{"p":3,"r":0.7216,"lo":-0.04,"hi":0.04},{"p":3,"r":0.9779,"lo":-0.04,"hi":0.04},{"p":3,"r":1.325,"lo":-0.04,"hi":0.04},{"p":3,"r":1.796,"lo":-0.04,"hi":0.04},{"p":3,"r":2.434,"lo":-0.04,"hi":0.04},{"p":3,"r":3.299,"lo":-0.04,"hi":0.04},{"p":3,"r":4.471,"lo":-0.04,"hi":0.04},{"p":3,"r":6.06,"lo":-0.04,"hi":0.04},{"p":3,"r":8.212,"lo":-0.04,"hi":0.04},{"p":3,"r":11.13,"lo":-0.04,"hi":0.04},{"p":3,"r":15.08,"lo":-0.04,"hi":0.04},{"p":3,"r":20.44,"lo":-0.05,"hi":0.05},{"p":3,"r":27.71,"lo":-0.07,"hi":0.07},{"p":3,"r":37.55,"lo":-0.1,"hi":0.1},{"p":3,"r":50.89,"lo":-0.22,"hi":0.22},{"p":3,"r":68.97,"lo":-0.38,"hi":0.38},{"p":3,"r":93.47,"lo":-0.6,"hi":0.6},{"p":3,"r":126.7,"lo":-2.4,"hi":2.4},{"p":3,"r":171.7,"lo":-4,"hi":4},
{"p":4,"r":0.1164,"lo":-0.03,"hi":0.03},{"p":4,"r":0.1578,"lo":-0.03,"hi":0.03},{"p":4,"r":0.2138,"lo":-0.03,"hi":0.03},{"p":4,"r":0.2899,"lo":-0.03,"hi":0.03},{"p":4,"r":0.3929,"lo":-0.03,"hi":0.03},{"p":4,"r":0.5324,"lo":-0.03,"hi":0.03},{"p":4,"r":0.7216,"lo":-0.03,"hi":0.03},{"p":4,"r":0.9779,"lo":-0.03,"hi":0.03},{"p":4,"r":1.325,"lo":-0.03,"hi":0.03},{"p":4,"r":1.796,"lo":-0.03,"hi":0.03},{"p":4,"r":2.434,"lo":-0.03,"hi":0.03},{"p":4,"r":3.299,"lo":-0.03,"hi":0.03},{"p":4,"r":4.471,"lo":-0.03,"hi":0.03},{"p":4,"r":6.06,"lo":-0.03,"hi":0.03},{"p":4,"r":8.212,"lo":-0.03,"hi":0.03},{"p":4,"r":11.13,"lo":-0.03,"hi":0.03},{"p":4,"r":15.08,"lo":-0.03,"hi":0.03},{"p":4,"r":20.44,"lo":-0.05,"hi":0.05},{"p":4,"r":27.71,"lo":-0.07,"hi":0.07},{"p":4,"r":37.55,"lo":-0.1,"hi":0.1},{"p":4,"r":50.89,"lo":-0.27,"hi":0.27},{"p":4,"r":68.97,"lo":-0.42,"hi":0.42},{"p":4,"r":93.47,"lo":-0.58,"hi":0.58},{"p":4,"r":126.7,"lo":-3,"hi":3},{"p":4,"r":171.7,"lo":-3,"hi":3},
{"p":5,"r":0.1349,"lo":-0.02,"hi":0.02},{"p":5,"r":0.2405,"lo":-0.02,"hi":0.02},{"p":5,"r":0.4291,"lo":-0.02,"hi":0.02},{"p":5,"r":0.7655,"lo":-0.02,"hi":0.02},{"p":5,"r":1.366,"lo":-0.03,"hi":0.03},{"p":5,"r":2.435,"lo":-0.04,"hi":0.04},{"p":5,"r":4.343,"lo":-0.06,"hi":0.06},{"p":5,"r":7.746,"lo":-0.1,"hi":0.1},{"p":5,"r":13.81,"lo":-0.25,"hi":0.25},{"p":5,"r":24.64,"lo":-0.5,"hi":0.5},{"p":5,"r":43.95,"lo":-0.63,"hi":0.63},
{"p":6,"r":0.1349,"lo":-0.06,"hi":0.06},{"p":6,"r":0.2405,"lo":-0.05,"hi":0.05},{"p":6,"r":0.4291,"lo":-0.06,"hi":0.06},{"p":6,"r":0.7655,"lo":-0.07,"hi":0.07},{"p":6,"r":1.366,"lo":-0.09,"hi":0.09},{"p":6,"r":2.435,"lo":-0.13,"hi":0.13},{"p":6,"r":4.343,"lo":-0.2,"hi":0.2},{"p":6,"r":7.746,"lo":-0.3,"hi":0.3},{"p":6,"r":13.81,"lo":-0.45,"hi":0.45},{"p":6,"r":24.64,"lo":-100,"hi":100},{"p":6,"r":43.95,"lo":-100,"hi":100}
]
},
"columns":6,
"spacing":{"row":28,"column":27},
"bounds":"flush",
"resolve":{"scale":{"fill":"independent","stroke":"independent"},"legend":{"fill":"independent","stroke":"independent"}},
"concat":[
{"width":275,"height":332,"title":{"text":"LOWZ main-L1","offset":-16},
 "encoding":{"x":{"field":"r","type":"quantitative","scale":{"type":"log","domain":[0.05,200],"nice":false},"axis":{"values":[0.06,0.07,0.08,0.09,0.1,0.2,0.3,0.4,0.5,0.6,0.7,0.8,0.9,1,2,3,4,5,6,7,8,9,10,20,30,40,50,60,70,80,90,100,200],"labels":false,"title":null,"tickSize":{"condition":{"test":"indexof([0.1,1,10,100],datum.value)>=0","value":7},"value":4}}},
  "y":{"field":"w","type":"quantitative","scale":{"domain":[-100,800],"nice":false,"zero":false},"axis":{"values":[0,200,400,600,800],"title":"rₚ wgg [h⁻¹Mpc]²","titlePadding":6,"tickSize":7,"labelFlush":false}}},
 "layer":[
  {"data":{"values":[{"r":0.05,"r2":200,"w":0}]},"mark":{"type":"rule","strokeDash":[8,5],"strokeWidth":2,"color":"black"},"encoding":{"x2":{"field":"r2"}}},
  {"data":{"values":[{"r":5,"w":-100,"w2":350}]},"mark":{"type":"rule","strokeDash":[8,5],"strokeWidth":2,"color":"black"},"encoding":{"y2":{"field":"w2"}}},
  {"data":{"name":"top"},"transform":[{"filter":"datum.p==1&&datum.s=='obs.'"}],"mark":{"type":"rule","strokeWidth":2,"color":"black","clip":true},"encoding":{"y":{"field":"lo","type":"quantitative"},"y2":{"field":"hi"}}},
  {"data":{"name":"top"},"transform":[{"filter":"datum.p==1&&datum.s=='obs.'"}],"mark":{"type":"point","shape":"circle","size":130,"strokeWidth":1.5,"opacity":1,"clip":true},"encoding":{"fill":{"field":"s","type":"nominal","scale":{"domain":["obs.","FS2"],"range":["black","transparent"]},"legend":null},"stroke":{"field":"s","type":"nominal","scale":{"domain":["obs.","FS2"],"range":["black","#d62728"]},"legend":null}}},
  {"data":{"name":"top"},"transform":[{"filter":"datum.p==1&&datum.s=='FS2'"}],"mark":{"type":"rule","strokeWidth":1.7,"color":"#d62728","clip":true},"encoding":{"y":{"field":"lo","type":"quantitative"},"y2":{"field":"hi"}}},
  {"data":{"name":"top"},"transform":[{"filter":"datum.p==1&&datum.s=='FS2'"}],"mark":{"type":"point","shape":"circle","size":130,"strokeWidth":1.5,"opacity":1,"clip":true},"encoding":{"fill":{"field":"s","type":"nominal","scale":{"domain":["obs.","FS2"],"range":["black","transparent"]},"legend":null},"stroke":{"field":"s","type":"nominal","scale":{"domain":["obs.","FS2"],"range":["black","#d62728"]},"legend":null}}}
 ]},
{"width":275,"height":332,"title":{"text":"LOWZ main-L2","offset":-1},
 "encoding":{"x":{"field":"r","type":"quantitative","scale":{"type":"log","domain":[0.05,200],"nice":false},"axis":{"values":[0.06,0.07,0.08,0.09,0.1,0.2,0.3,0.4,0.5,0.6,0.7,0.8,0.9,1,2,3,4,5,6,7,8,9,10,20,30,40,50,60,70,80,90,100,200],"labels":false,"title":null,"tickSize":{"condition":{"test":"indexof([0.1,1,10,100],datum.value)>=0","value":7},"value":4}}},
  "y":{"field":"w","type":"quantitative","scale":{"domain":[-100,800],"nice":false,"zero":false},"axis":{"values":[0,200,400,600,800],"title":null,"labels":false,"tickSize":7}}},
 "layer":[
  {"data":{"values":[{"r":0.05,"r2":200,"w":0}]},"mark":{"type":"rule","strokeDash":[8,5],"strokeWidth":2,"color":"black"},"encoding":{"x2":{"field":"r2"}}},
  {"data":{"values":[{"r":5,"w":-100,"w2":350}]},"mark":{"type":"rule","strokeDash":[8,5],"strokeWidth":2,"color":"black"},"encoding":{"y2":{"field":"w2"}}},
  {"data":{"name":"top"},"transform":[{"filter":"datum.p==2&&datum.s=='obs.'"}],"mark":{"type":"rule","strokeWidth":2,"color":"black","clip":true},"encoding":{"y":{"field":"lo","type":"quantitative"},"y2":{"field":"hi"}}},
  {"data":{"name":"top"},"transform":[{"filter":"datum.p==2&&datum.s=='obs.'"}],"mark":{"type":"point","shape":"circle","size":130,"strokeWidth":1.5,"opacity":1,"clip":true},"encoding":{"fill":{"field":"s","type":"nominal","scale":{"domain":["obs.","FS2"],"range":["black","transparent"]},"legend":null},"stroke":{"field":"s","type":"nominal","scale":{"domain":["obs.","FS2"],"range":["black","#d62728"]},"legend":null}}},
  {"data":{"name":"top"},"transform":[{"filter":"datum.p==2&&datum.s=='FS2'"}],"mark":{"type":"rule","strokeWidth":1.7,"color":"#d62728","clip":true},"encoding":{"y":{"field":"lo","type":"quantitative"},"y2":{"field":"hi"}}},
  {"data":{"name":"top"},"transform":[{"filter":"datum.p==2&&datum.s=='FS2'"}],"mark":{"type":"point","shape":"circle","size":130,"strokeWidth":1.5,"opacity":1,"clip":true},"encoding":{"fill":{"field":"s","type":"nominal","scale":{"domain":["obs.","FS2"],"range":["black","transparent"]},"legend":null},"stroke":{"field":"s","type":"nominal","scale":{"domain":["obs.","FS2"],"range":["black","#d62728"]},"legend":null}}}
 ]},
{"width":275,"height":332,"title":{"text":"LOWZ main-L3","offset":-1},
 "encoding":{"x":{"field":"r","type":"quantitative","scale":{"type":"log","domain":[0.05,200],"nice":false},"axis":{"values":[0.06,0.07,0.08,0.09,0.1,0.2,0.3,0.4,0.5,0.6,0.7,0.8,0.9,1,2,3,4,5,6,7,8,9,10,20,30,40,50,60,70,80,90,100,200],"labels":false,"title":null,"tickSize":{"condition":{"test":"indexof([0.1,1,10,100],datum.value)>=0","value":7},"value":4}}},
  "y":{"field":"w","type":"quantitative","scale":{"domain":[-100,800],"nice":false,"zero":false},"axis":{"values":[0,200,400,600,800],"title":null,"labels":false,"tickSize":7}}},
 "layer":[
  {"data":{"values":[{"r":0.05,"r2":200,"w":0}]},"mark":{"type":"rule","strokeDash":[8,5],"strokeWidth":2,"color":"black"},"encoding":{"x2":{"field":"r2"}}},
  {"data":{"values":[{"r":5,"w":-100,"w2":350}]},"mark":{"type":"rule","strokeDash":[8,5],"strokeWidth":2,"color":"black"},"encoding":{"y2":{"field":"w2"}}},
  {"data":{"name":"top"},"transform":[{"filter":"datum.p==3&&datum.s=='obs.'"}],"mark":{"type":"rule","strokeWidth":2,"color":"black","clip":true},"encoding":{"y":{"field":"lo","type":"quantitative"},"y2":{"field":"hi"}}},
  {"data":{"name":"top"},"transform":[{"filter":"datum.p==3&&datum.s=='obs.'"}],"mark":{"type":"point","shape":"circle","size":130,"strokeWidth":1.5,"opacity":1,"clip":true},"encoding":{"fill":{"field":"s","type":"nominal","scale":{"domain":["obs.","FS2"],"range":["black","transparent"]},"legend":null},"stroke":{"field":"s","type":"nominal","scale":{"domain":["obs.","FS2"],"range":["black","#d62728"]},"legend":null}}},
  {"data":{"name":"top"},"transform":[{"filter":"datum.p==3&&datum.s=='FS2'"}],"mark":{"type":"rule","strokeWidth":1.7,"color":"#d62728","clip":true},"encoding":{"y":{"field":"lo","type":"quantitative"},"y2":{"field":"hi"}}},
  {"data":{"name":"top"},"transform":[{"filter":"datum.p==3&&datum.s=='FS2'"}],"mark":{"type":"point","shape":"circle","size":130,"strokeWidth":1.5,"opacity":1,"clip":true},"encoding":{"fill":{"field":"s","type":"nominal","scale":{"domain":["obs.","FS2"],"range":["black","transparent"]},"legend":null},"stroke":{"field":"s","type":"nominal","scale":{"domain":["obs.","FS2"],"range":["black","#d62728"]},"legend":null}}}
 ]},
{"width":275,"height":332,"title":{"text":"LOWZ main-L4","offset":-1},
 "encoding":{"x":{"field":"r","type":"quantitative","scale":{"type":"log","domain":[0.05,200],"nice":false},"axis":{"values":[0.06,0.07,0.08,0.09,0.1,0.2,0.3,0.4,0.5,0.6,0.7,0.8,0.9,1,2,3,4,5,6,7,8,9,10,20,30,40,50,60,70,80,90,100,200],"labels":false,"title":null,"tickSize":{"condition":{"test":"indexof([0.1,1,10,100],datum.value)>=0","value":7},"value":4}}},
  "y":{"field":"w","type":"quantitative","scale":{"domain":[-100,800],"nice":false,"zero":false},"axis":{"values":[0,200,400,600,800],"title":null,"labels":false,"tickSize":7}}},
 "layer":[
  {"data":{"values":[{"r":0.05,"r2":200,"w":0}]},"mark":{"type":"rule","strokeDash":[8,5],"strokeWidth":2,"color":"black"},"encoding":{"x2":{"field":"r2"}}},
  {"data":{"values":[{"r":5,"w":-100,"w2":350}]},"mark":{"type":"rule","strokeDash":[8,5],"strokeWidth":2,"color":"black"},"encoding":{"y2":{"field":"w2"}}},
  {"data":{"name":"top"},"transform":[{"filter":"datum.p==4&&datum.s=='obs.'"}],"mark":{"type":"rule","strokeWidth":2,"color":"black","clip":true},"encoding":{"y":{"field":"lo","type":"quantitative"},"y2":{"field":"hi"}}},
  {"data":{"name":"top"},"transform":[{"filter":"datum.p==4&&datum.s=='obs.'"}],"mark":{"type":"point","shape":"circle","size":130,"strokeWidth":1.5,"opacity":1,"clip":true},"encoding":{"fill":{"field":"s","type":"nominal","scale":{"domain":["obs.","FS2"],"range":["black","transparent"]},"legend":null},"stroke":{"field":"s","type":"nominal","scale":{"domain":["obs.","FS2"],"range":["black","#d62728"]},"legend":null}}},
  {"data":{"name":"top"},"transform":[{"filter":"datum.p==4&&datum.s=='FS2'"}],"mark":{"type":"rule","strokeWidth":1.7,"color":"#d62728","clip":true},"encoding":{"y":{"field":"lo","type":"quantitative"},"y2":{"field":"hi"}}},
  {"data":{"name":"top"},"transform":[{"filter":"datum.p==4&&datum.s=='FS2'"}],"mark":{"type":"point","shape":"circle","size":130,"strokeWidth":1.5,"opacity":1,"clip":true},"encoding":{"fill":{"field":"s","type":"nominal","scale":{"domain":["obs.","FS2"],"range":["black","transparent"]},"legend":null},"stroke":{"field":"s","type":"nominal","scale":{"domain":["obs.","FS2"],"range":["black","#d62728"]},"legend":null}}}
 ]},
{"width":275,"height":332,"title":{"text":"SDSS red-red","offset":-1},
 "encoding":{"x":{"field":"r","type":"quantitative","scale":{"type":"log","domain":[0.05,200],"nice":false},"axis":{"values":[0.06,0.07,0.08,0.09,0.1,0.2,0.3,0.4,0.5,0.6,0.7,0.8,0.9,1,2,3,4,5,6,7,8,9,10,20,30,40,50,60,70,80,90,100,200],"labels":false,"title":null,"tickSize":{"condition":{"test":"indexof([0.1,1,10,100],datum.value)>=0","value":7},"value":4}}},
  "y":{"field":"w","type":"quantitative","scale":{"domain":[-100,800],"nice":false,"zero":false},"axis":{"values":[0,200,400,600,800],"title":null,"labels":false,"tickSize":7}}},
 "layer":[
  {"data":{"values":[{"r":0.05,"r2":200,"w":0}]},"mark":{"type":"rule","strokeDash":[8,5],"strokeWidth":2,"color":"black"},"encoding":{"x2":{"field":"r2"}}},
  {"data":{"values":[{"r":5,"w":-100,"w2":350}]},"mark":{"type":"rule","strokeDash":[8,5],"strokeWidth":2,"color":"black"},"encoding":{"y2":{"field":"w2"}}},
  {"data":{"name":"top"},"transform":[{"filter":"datum.p==5&&datum.s=='obs.'"}],"mark":{"type":"rule","strokeWidth":2,"color":"black","clip":true},"encoding":{"y":{"field":"lo","type":"quantitative"},"y2":{"field":"hi"}}},
  {"data":{"name":"top"},"transform":[{"filter":"datum.p==5&&datum.s=='obs.'"}],"mark":{"type":"point","shape":"circle","size":130,"strokeWidth":1.5,"opacity":1,"clip":true},"encoding":{"fill":{"field":"s","type":"nominal","scale":{"domain":["obs.","FS2"],"range":["black","transparent"]},"legend":null},"stroke":{"field":"s","type":"nominal","scale":{"domain":["obs.","FS2"],"range":["black","#d62728"]},"legend":null}}},
  {"data":{"name":"top"},"transform":[{"filter":"datum.p==5&&datum.s=='FS2'"}],"mark":{"type":"rule","strokeWidth":1.7,"color":"#d62728","clip":true},"encoding":{"y":{"field":"lo","type":"quantitative"},"y2":{"field":"hi"}}},
  {"data":{"name":"top"},"transform":[{"filter":"datum.p==5&&datum.s=='FS2'"}],"mark":{"type":"point","shape":"circle","size":130,"strokeWidth":1.5,"opacity":1,"clip":true},"encoding":{"fill":{"field":"s","type":"nominal","scale":{"domain":["obs.","FS2"],"range":["black","transparent"]},"legend":null},"stroke":{"field":"s","type":"nominal","scale":{"domain":["obs.","FS2"],"range":["black","#d62728"]},"legend":null}}},
  {"data":{"values":[{"r":0.000003,"w":448,"t":"preliminary"}]},"mark":{"type":"text","font":"Liberation Sans","fontSize":160,"color":"#c8c8c8","align":"center","baseline":"alphabetic"},"encoding":{"text":{"field":"t","type":"nominal"}}}
 ]},
{"width":275,"height":332,"title":{"text":"SDSS blue-blue","offset":-1},
 "encoding":{"x":{"field":"r","type":"quantitative","scale":{"type":"log","domain":[0.05,200],"nice":false},"axis":{"values":[0.06,0.07,0.08,0.09,0.1,0.2,0.3,0.4,0.5,0.6,0.7,0.8,0.9,1,2,3,4,5,6,7,8,9,10,20,30,40,50,60,70,80,90,100,200],"labels":false,"title":null,"tickSize":{"condition":{"test":"indexof([0.1,1,10,100],datum.value)>=0","value":7},"value":4}}},
  "y":{"field":"w","type":"quantitative","scale":{"domain":[-100,800],"nice":false,"zero":false},"axis":{"values":[0,200,400,600,800],"title":null,"labels":false,"tickSize":7}}},
 "layer":[
  {"data":{"values":[{"r":0.05,"r2":200,"w":0}]},"mark":{"type":"rule","strokeDash":[8,5],"strokeWidth":2,"color":"black"},"encoding":{"x2":{"field":"r2"}}},
  {"data":{"values":[{"r":5,"w":-100,"w2":350}]},"mark":{"type":"rule","strokeDash":[8,5],"strokeWidth":2,"color":"black"},"encoding":{"y2":{"field":"w2"}}},
  {"data":{"name":"top"},"transform":[{"filter":"datum.p==6&&datum.s=='obs.'"}],"mark":{"type":"rule","strokeWidth":2,"color":"black","clip":true},"encoding":{"y":{"field":"lo","type":"quantitative"},"y2":{"field":"hi"}}},
  {"data":{"name":"top"},"transform":[{"filter":"datum.p==6&&datum.s=='obs.'"}],"mark":{"type":"point","shape":"circle","size":130,"strokeWidth":1.5,"opacity":1,"clip":true},"encoding":{"fill":{"field":"s","type":"nominal","scale":{"domain":["obs.","FS2"],"range":["black","transparent"]},"legend":{"title":null,"orient":"top-right","offset":12,"padding":11,"rowPadding":9,"symbolType":"M-0.48,0A0.48,0.48 0 1,0 0.48,0A0.48,0.48 0 1,0 -0.48,0Z M0,-1L0,1","symbolSize":625,"symbolStrokeWidth":1.6,"symbolOpacity":1,"symbolOffset":17,"labelOffset":49,"labelFont":"Liberation Serif","labelFontSize":27,"labelColor":"black","strokeColor":"#cccccc","fillColor":"rgba(255,255,255,0.8)","cornerRadius":6}},"stroke":{"field":"s","type":"nominal","scale":{"domain":["obs.","FS2"],"range":["black","#d62728"]},"legend":{"title":null,"orient":"top-right","offset":12,"padding":11,"rowPadding":9,"symbolType":"M-0.48,0A0.48,0.48 0 1,0 0.48,0A0.48,0.48 0 1,0 -0.48,0Z M0,-1L0,1","symbolSize":625,"symbolStrokeWidth":1.6,"symbolOpacity":1,"symbolOffset":17,"labelOffset":49,"labelFont":"Liberation Serif","labelFontSize":27,"labelColor":"black","strokeColor":"#cccccc","fillColor":"rgba(255,255,255,0.8)","cornerRadius":6}}}},
  {"data":{"name":"top"},"transform":[{"filter":"datum.p==6&&datum.s=='FS2'"}],"mark":{"type":"rule","strokeWidth":1.7,"color":"#d62728","clip":true},"encoding":{"y":{"field":"lo","type":"quantitative"},"y2":{"field":"hi"}}},
  {"data":{"name":"top"},"transform":[{"filter":"datum.p==6&&datum.s=='FS2'"}],"mark":{"type":"point","shape":"circle","size":130,"strokeWidth":1.5,"opacity":1,"clip":true},"encoding":{"fill":{"field":"s","type":"nominal","scale":{"domain":["obs.","FS2"],"range":["black","transparent"]}},"stroke":{"field":"s","type":"nominal","scale":{"domain":["obs.","FS2"],"range":["black","#d62728"]}}}}
 ]},
{"width":275,"height":220,
 "encoding":{"x":{"field":"r","type":"quantitative","scale":{"type":"log","domain":[0.05,200],"nice":false},"axis":{"values":[0.06,0.07,0.08,0.09,0.1,0.2,0.3,0.4,0.5,0.6,0.7,0.8,0.9,1,2,3,4,5,6,7,8,9,10,20,30,40,50,60,70,80,90,100,200],"title":"rₚ [h⁻¹Mpc]","labelExpr":"datum.value==0.1?'10⁻¹':datum.value==1?'10⁰':datum.value==10?'10¹':datum.value==100?'10²':''","labelOverlap":false,"labelFlush":false,"tickSize":{"condition":{"test":"indexof([0.1,1,10,100],datum.value)>=0","value":7},"value":4}}},
  "y":{"field":"v","type":"quantitative","scale":{"domain":[-2,2],"nice":false},"axis":{"values":[-2,-1,0,1,2],"title":"wgg^FS2/wgg^obs. − 1","titleFontSize":24,"titlePadding":20,"tickSize":7,"labelFlush":false}}},
 "layer":[
  {"data":{"name":"band"},"transform":[{"filter":"datum.p==1"}],"mark":{"type":"area","color":"#d0d0d0","clip":true},"encoding":{"y":{"field":"lo","type":"quantitative"},"y2":{"field":"hi"}}},
  {"data":{"values":[{"r":0.05,"r2":200,"v":0.2},{"r":0.05,"r2":200,"v":0},{"r":0.05,"r2":200,"v":-0.2}]},"mark":{"type":"rule","strokeDash":[8,5],"strokeWidth":2,"color":"black"},"encoding":{"x2":{"field":"r2"}}},
  {"data":{"values":[{"r":5,"v":-2,"v2":-0.2}]},"mark":{"type":"rule","strokeDash":[8,5],"strokeWidth":2,"color":"black"},"encoding":{"y2":{"field":"v2"}}},
  {"data":{"name":"bot"},"transform":[{"filter":"datum.p==1"}],"mark":{"type":"rule","strokeWidth":1.7,"color":"#d62728","clip":true},"encoding":{"y":{"field":"lo","type":"quantitative"},"y2":{"field":"hi"}}},
  {"data":{"name":"bot"},"transform":[{"filter":"datum.p==1"}],"mark":{"type":"point","shape":"circle","size":130,"strokeWidth":1.5,"color":"#d62728","filled":false,"opacity":1,"clip":true}}
 ]},
{"width":275,"height":220,
 "encoding":{"x":{"field":"r","type":"quantitative","scale":{"type":"log","domain":[0.05,200],"nice":false},"axis":{"values":[0.06,0.07,0.08,0.09,0.1,0.2,0.3,0.4,0.5,0.6,0.7,0.8,0.9,1,2,3,4,5,6,7,8,9,10,20,30,40,50,60,70,80,90,100,200],"title":"rₚ [h⁻¹Mpc]","labelExpr":"datum.value==0.1?'10⁻¹':datum.value==1?'10⁰':datum.value==10?'10¹':datum.value==100?'10²':''","labelOverlap":false,"labelFlush":false,"tickSize":{"condition":{"test":"indexof([0.1,1,10,100],datum.value)>=0","value":7},"value":4}}},
  "y":{"field":"v","type":"quantitative","scale":{"domain":[-2,2],"nice":false},"axis":{"values":[-2,-1,0,1,2],"title":null,"labels":false,"tickSize":7}}},
 "layer":[
  {"data":{"name":"band"},"transform":[{"filter":"datum.p==2"}],"mark":{"type":"area","color":"#d0d0d0","clip":true},"encoding":{"y":{"field":"lo","type":"quantitative"},"y2":{"field":"hi"}}},
  {"data":{"values":[{"r":0.05,"r2":200,"v":0.2},{"r":0.05,"r2":200,"v":0},{"r":0.05,"r2":200,"v":-0.2}]},"mark":{"type":"rule","strokeDash":[8,5],"strokeWidth":2,"color":"black"},"encoding":{"x2":{"field":"r2"}}},
  {"data":{"values":[{"r":5,"v":-2,"v2":-0.2}]},"mark":{"type":"rule","strokeDash":[8,5],"strokeWidth":2,"color":"black"},"encoding":{"y2":{"field":"v2"}}},
  {"data":{"name":"bot"},"transform":[{"filter":"datum.p==2"}],"mark":{"type":"rule","strokeWidth":1.7,"color":"#d62728","clip":true},"encoding":{"y":{"field":"lo","type":"quantitative"},"y2":{"field":"hi"}}},
  {"data":{"name":"bot"},"transform":[{"filter":"datum.p==2"}],"mark":{"type":"point","shape":"circle","size":130,"strokeWidth":1.5,"color":"#d62728","filled":false,"opacity":1,"clip":true}}
 ]},
{"width":275,"height":220,
 "encoding":{"x":{"field":"r","type":"quantitative","scale":{"type":"log","domain":[0.05,200],"nice":false},"axis":{"values":[0.06,0.07,0.08,0.09,0.1,0.2,0.3,0.4,0.5,0.6,0.7,0.8,0.9,1,2,3,4,5,6,7,8,9,10,20,30,40,50,60,70,80,90,100,200],"title":"rₚ [h⁻¹Mpc]","labelExpr":"datum.value==0.1?'10⁻¹':datum.value==1?'10⁰':datum.value==10?'10¹':datum.value==100?'10²':''","labelOverlap":false,"labelFlush":false,"tickSize":{"condition":{"test":"indexof([0.1,1,10,100],datum.value)>=0","value":7},"value":4}}},
  "y":{"field":"v","type":"quantitative","scale":{"domain":[-2,2],"nice":false},"axis":{"values":[-2,-1,0,1,2],"title":null,"labels":false,"tickSize":7}}},
 "layer":[
  {"data":{"name":"band"},"transform":[{"filter":"datum.p==3"}],"mark":{"type":"area","color":"#d0d0d0","clip":true},"encoding":{"y":{"field":"lo","type":"quantitative"},"y2":{"field":"hi"}}},
  {"data":{"values":[{"r":0.05,"r2":200,"v":0.2},{"r":0.05,"r2":200,"v":0},{"r":0.05,"r2":200,"v":-0.2}]},"mark":{"type":"rule","strokeDash":[8,5],"strokeWidth":2,"color":"black"},"encoding":{"x2":{"field":"r2"}}},
  {"data":{"values":[{"r":5,"v":-2,"v2":-0.2}]},"mark":{"type":"rule","strokeDash":[8,5],"strokeWidth":2,"color":"black"},"encoding":{"y2":{"field":"v2"}}},
  {"data":{"name":"bot"},"transform":[{"filter":"datum.p==3"}],"mark":{"type":"rule","strokeWidth":1.7,"color":"#d62728","clip":true},"encoding":{"y":{"field":"lo","type":"quantitative"},"y2":{"field":"hi"}}},
  {"data":{"name":"bot"},"transform":[{"filter":"datum.p==3"}],"mark":{"type":"point","shape":"circle","size":130,"strokeWidth":1.5,"color":"#d62728","filled":false,"opacity":1,"clip":true}}
 ]},
{"width":275,"height":220,
 "encoding":{"x":{"field":"r","type":"quantitative","scale":{"type":"log","domain":[0.05,200],"nice":false},"axis":{"values":[0.06,0.07,0.08,0.09,0.1,0.2,0.3,0.4,0.5,0.6,0.7,0.8,0.9,1,2,3,4,5,6,7,8,9,10,20,30,40,50,60,70,80,90,100,200],"title":"rₚ [h⁻¹Mpc]","labelExpr":"datum.value==0.1?'10⁻¹':datum.value==1?'10⁰':datum.value==10?'10¹':datum.value==100?'10²':''","labelOverlap":false,"labelFlush":false,"tickSize":{"condition":{"test":"indexof([0.1,1,10,100],datum.value)>=0","value":7},"value":4}}},
  "y":{"field":"v","type":"quantitative","scale":{"domain":[-2,2],"nice":false},"axis":{"values":[-2,-1,0,1,2],"title":null,"labels":false,"tickSize":7}}},
 "layer":[
  {"data":{"name":"band"},"transform":[{"filter":"datum.p==4"}],"mark":{"type":"area","color":"#d0d0d0","clip":true},"encoding":{"y":{"field":"lo","type":"quantitative"},"y2":{"field":"hi"}}},
  {"data":{"values":[{"r":0.05,"r2":200,"v":0.2},{"r":0.05,"r2":200,"v":0},{"r":0.05,"r2":200,"v":-0.2}]},"mark":{"type":"rule","strokeDash":[8,5],"strokeWidth":2,"color":"black"},"encoding":{"x2":{"field":"r2"}}},
  {"data":{"values":[{"r":5,"v":-2,"v2":-0.2}]},"mark":{"type":"rule","strokeDash":[8,5],"strokeWidth":2,"color":"black"},"encoding":{"y2":{"field":"v2"}}},
  {"data":{"name":"bot"},"transform":[{"filter":"datum.p==4"}],"mark":{"type":"rule","strokeWidth":1.7,"color":"#d62728","clip":true},"encoding":{"y":{"field":"lo","type":"quantitative"},"y2":{"field":"hi"}}},
  {"data":{"name":"bot"},"transform":[{"filter":"datum.p==4"}],"mark":{"type":"point","shape":"circle","size":130,"strokeWidth":1.5,"color":"#d62728","filled":false,"opacity":1,"clip":true}}
 ]},
{"width":275,"height":220,
 "encoding":{"x":{"field":"r","type":"quantitative","scale":{"type":"log","domain":[0.05,200],"nice":false},"axis":{"values":[0.06,0.07,0.08,0.09,0.1,0.2,0.3,0.4,0.5,0.6,0.7,0.8,0.9,1,2,3,4,5,6,7,8,9,10,20,30,40,50,60,70,80,90,100,200],"title":"rₚ [h⁻¹Mpc]","labelExpr":"datum.value==0.1?'10⁻¹':datum.value==1?'10⁰':datum.value==10?'10¹':datum.value==100?'10²':''","labelOverlap":false,"labelFlush":false,"tickSize":{"condition":{"test":"indexof([0.1,1,10,100],datum.value)>=0","value":7},"value":4}}},
  "y":{"field":"v","type":"quantitative","scale":{"domain":[-2,2],"nice":false},"axis":{"values":[-2,-1,0,1,2],"title":null,"labels":false,"tickSize":7}}},
 "layer":[
  {"data":{"name":"band"},"transform":[{"filter":"datum.p==5"}],"mark":{"type":"area","color":"#d0d0d0","clip":true},"encoding":{"y":{"field":"lo","type":"quantitative"},"y2":{"field":"hi"}}},
  {"data":{"values":[{"r":0.05,"r2":200,"v":0.2},{"r":0.05,"r2":200,"v":0},{"r":0.05,"r2":200,"v":-0.2}]},"mark":{"type":"rule","strokeDash":[8,5],"strokeWidth":2,"color":"black"},"encoding":{"x2":{"field":"r2"}}},
  {"data":{"values":[{"r":5,"v":-2,"v2":-0.2}]},"mark":{"type":"rule","strokeDash":[8,5],"strokeWidth":2,"color":"black"},"encoding":{"y2":{"field":"v2"}}},
  {"data":{"name":"bot"},"transform":[{"filter":"datum.p==5"}],"mark":{"type":"rule","strokeWidth":1.7,"color":"#d62728","clip":true},"encoding":{"y":{"field":"lo","type":"quantitative"},"y2":{"field":"hi"}}},
  {"data":{"name":"bot"},"transform":[{"filter":"datum.p==5"}],"mark":{"type":"point","shape":"circle","size":130,"strokeWidth":1.5,"color":"#d62728","filled":false,"opacity":1,"clip":true}}
 ]},
{"width":275,"height":220,
 "encoding":{"x":{"field":"r","type":"quantitative","scale":{"type":"log","domain":[0.05,200],"nice":false},"axis":{"values":[0.06,0.07,0.08,0.09,0.1,0.2,0.3,0.4,0.5,0.6,0.7,0.8,0.9,1,2,3,4,5,6,7,8,9,10,20,30,40,50,60,70,80,90,100,200],"title":"rₚ [h⁻¹Mpc]","labelExpr":"datum.value==0.1?'10⁻¹':datum.value==1?'10⁰':datum.value==10?'10¹':datum.value==100?'10²':''","labelOverlap":false,"labelFlush":false,"tickSize":{"condition":{"test":"indexof([0.1,1,10,100],datum.value)>=0","value":7},"value":4}}},
  "y":{"field":"v","type":"quantitative","scale":{"domain":[-2,2],"nice":false},"axis":{"values":[-2,-1,0,1,2],"title":null,"labels":false,"tickSize":7}}},
 "layer":[
  {"data":{"name":"band"},"transform":[{"filter":"datum.p==6"}],"mark":{"type":"area","color":"#d0d0d0","clip":true},"encoding":{"y":{"field":"lo","type":"quantitative"},"y2":{"field":"hi"}}},
  {"data":{"values":[{"r":0.05,"r2":200,"v":0.2},{"r":0.05,"r2":200,"v":0},{"r":0.05,"r2":200,"v":-0.2}]},"mark":{"type":"rule","strokeDash":[8,5],"strokeWidth":2,"color":"black"},"encoding":{"x2":{"field":"r2"}}},
  {"data":{"values":[{"r":5,"v":-2,"v2":-0.2}]},"mark":{"type":"rule","strokeDash":[8,5],"strokeWidth":2,"color":"black"},"encoding":{"y2":{"field":"v2"}}},
  {"data":{"name":"bot"},"transform":[{"filter":"datum.p==6"}],"mark":{"type":"rule","strokeWidth":1.7,"color":"#d62728","clip":true},"encoding":{"y":{"field":"lo","type":"quantitative"},"y2":{"field":"hi"}}},
  {"data":{"name":"bot"},"transform":[{"filter":"datum.p==6"}],"mark":{"type":"point","shape":"circle","size":130,"strokeWidth":1.5,"color":"#d62728","filled":false,"opacity":1,"clip":true}}
 ]}
],
"config":{
 "view":{"stroke":"#222","strokeWidth":1.2},
 "axis":{"domain":false,"grid":false,"labelFont":"Liberation Serif","labelFontSize":27,"labelColor":"black","titleFont":"Liberation Serif","titleFontSize":27,"titleFontWeight":"normal","titleColor":"black","tickColor":"#222","tickWidth":1.2,"labelPadding":3,"titlePadding":13},
 "title":{"font":"Liberation Serif","fontSize":27,"fontWeight":"normal","color":"black"}
}
}
